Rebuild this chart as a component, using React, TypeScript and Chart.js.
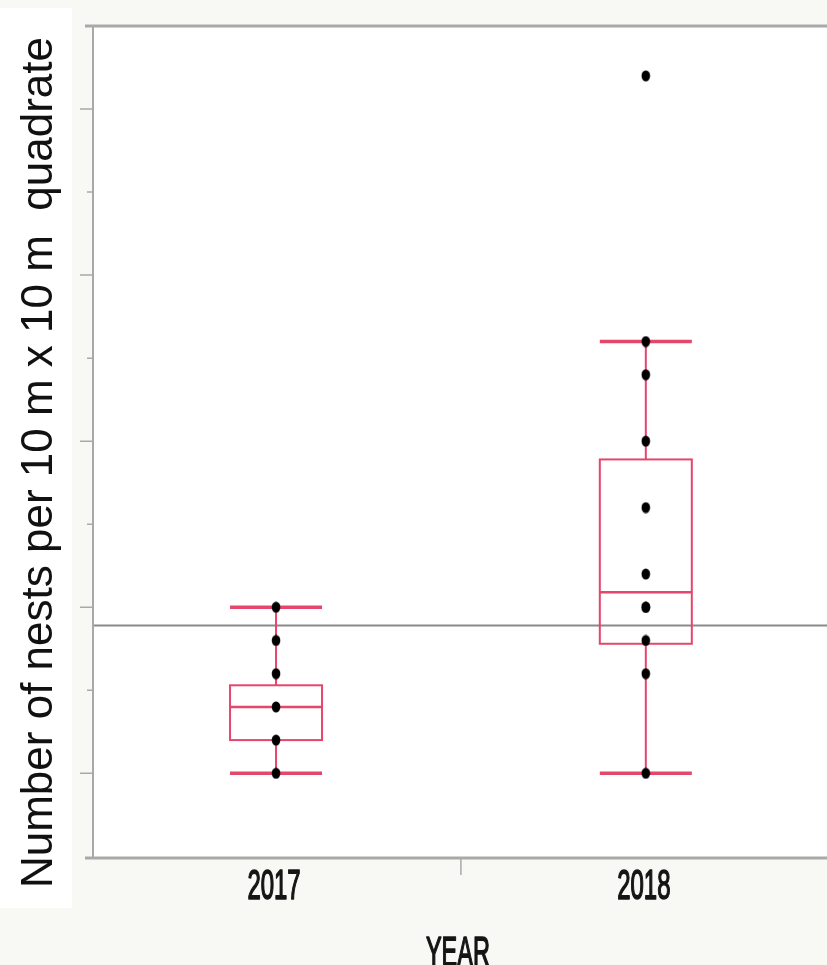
import React, { useEffect, useRef } from "react";
import { Chart, registerables } from "chart.js";
Chart.register(...registerables);

const YEARS = ["2017", "2018"];
const NESTS_2017 = [5, 6, 7, 8, 9, 10];
const NESTS_2018 = [5, 8, 9, 10, 10, 11, 13, 15, 17, 18, 26];
const WHISKER_LOW = [5, 5];
const Q1 = [6, 8.9];
const MEDIAN = [7, 10.45];
const Q3 = [7.65, 14.45];
const WHISKER_HIGH = [10, 18];
const REFERENCE = 9.45;
const Y_MAJOR = [5, 10, 15, 20, 25];
const Y_MINOR = [7.5, 12.5, 17.5, 22.5];
const X_TICKS = [1.5];
const Y_TITLE = "Number of nests per 10 m x 10 m  quadrate";
const X_TITLE = "YEAR";

const BOX_COLOR = "#e4466c";
const AXIS_COLOR = "#a9a9a9";

function makeDot(): HTMLCanvasElement {
  const c = document.createElement("canvas");
  c.width = 10;
  c.height = 12;
  const g = c.getContext("2d")!;
  g.fillStyle = "#000";
  g.beginPath();
  g.ellipse(5, 6, 4.3, 5.6, 0, 0, Math.PI * 2);
  g.fill();
  return c;
}

const deco = {
  id: "deco",
  beforeDraw(chart: any) {
    const { ctx, width, height, chartArea: a } = chart;
    ctx.save();
    ctx.fillStyle = "#f8f8f5";
    ctx.fillRect(0, 0, width, height);
    ctx.fillStyle = "#ffffff";
    ctx.fillRect(0, 8, 72, 900);
    ctx.fillRect(a.left, a.top, a.right - a.left, a.bottom - a.top);
    ctx.restore();
  },
  beforeDatasetsDraw(chart: any) {
    const { ctx, chartArea: a } = chart;
    const xs = chart.scales.x;
    const ys = chart.scales.y;
    ctx.save();
    ctx.strokeStyle = "#8a8a8a";
    ctx.lineWidth = 2;
    const ry = ys.getPixelForValue(REFERENCE);
    ctx.beginPath();
    ctx.moveTo(a.left, ry);
    ctx.lineTo(a.right, ry);
    ctx.stroke();
    const half = 46;
    YEARS.forEach((_, i) => {
      const cx = xs.getPixelForValue(i + 1);
      const lo = ys.getPixelForValue(WHISKER_LOW[i]);
      const hi = ys.getPixelForValue(WHISKER_HIGH[i]);
      const q1 = ys.getPixelForValue(Q1[i]);
      const q3 = ys.getPixelForValue(Q3[i]);
      const md = ys.getPixelForValue(MEDIAN[i]);
      ctx.strokeStyle = BOX_COLOR;
      ctx.lineWidth = 2;
      ctx.beginPath();
      ctx.moveTo(cx, lo);
      ctx.lineTo(cx, q1);
      ctx.moveTo(cx, q3);
      ctx.lineTo(cx, hi);
      ctx.stroke();
      ctx.strokeRect(cx - half, q3, half * 2, q1 - q3);
      ctx.lineWidth = 2.5;
      ctx.beginPath();
      ctx.moveTo(cx - half, md);
      ctx.lineTo(cx + half, md);
      ctx.stroke();
      ctx.lineWidth = 3.5;
      ctx.beginPath();
      ctx.moveTo(cx - half, lo);
      ctx.lineTo(cx + half, lo);
      ctx.moveTo(cx - half, hi);
      ctx.lineTo(cx + half, hi);
      ctx.stroke();
    });
    ctx.restore();
  },
  afterDraw(chart: any) {
    const { ctx, chartArea: a } = chart;
    const xs = chart.scales.x;
    const ys = chart.scales.y;
    ctx.save();
    ctx.strokeStyle = AXIS_COLOR;
    ctx.lineWidth = 3;
    ctx.beginPath();
    ctx.moveTo(a.left - 8, a.top);
    ctx.lineTo(a.right, a.top);
    ctx.moveTo(a.left - 8, a.bottom);
    ctx.lineTo(a.right, a.bottom);
    ctx.stroke();
    ctx.lineWidth = 2;
    ctx.beginPath();
    ctx.moveTo(a.left, a.top);
    ctx.lineTo(a.left, a.bottom);
    ctx.stroke();
    ctx.lineWidth = 1.5;
    ctx.beginPath();
    Y_MAJOR.forEach((v) => {
      const py = ys.getPixelForValue(v);
      ctx.moveTo(a.left - 13, py);
      ctx.lineTo(a.left, py);
    });
    Y_MINOR.forEach((v) => {
      const py = ys.getPixelForValue(v);
      ctx.moveTo(a.left - 6, py);
      ctx.lineTo(a.left, py);
    });
    X_TICKS.forEach((v) => {
      const px = xs.getPixelForValue(v);
      ctx.moveTo(px, a.bottom);
      ctx.lineTo(px, a.bottom + 17);
    });
    ctx.stroke();
    ctx.fillStyle = "#151515";
    ctx.strokeStyle = "#151515";
    ctx.lineWidth = 1.6;
    ctx.lineJoin = "round";
    ctx.font = "42px 'Liberation Sans', Arial, sans-serif";
    ctx.textAlign = "center";
    ctx.textBaseline = "alphabetic";
    const sx = 0.57;
    YEARS.forEach((lab, i) => {
      const px = xs.getPixelForValue(i + 1) - 2;
      ctx.save();
      ctx.translate(px, 899);
      ctx.scale(sx, 1);
      ctx.fillText(lab, 0, 0);
      ctx.strokeText(lab, 0, 0);
      ctx.restore();
    });
    ctx.save();
    ctx.translate(xs.getPixelForValue(1.5) - 3, 966);
    ctx.scale(0.56, 1);
    ctx.fillText(X_TITLE, 0, 0);
    ctx.strokeText(X_TITLE, 0, 0);
    ctx.restore();
    ctx.save();
    ctx.fillStyle = "#111";
    ctx.font = "44px 'Liberation Sans', Arial, sans-serif";
    ctx.translate(52, 462.5);
    ctx.rotate(-Math.PI / 2);
    ctx.fillText(Y_TITLE, 0, 0);
    ctx.restore();
    ctx.restore();
  },
};

export default function App() {
  const ref = useRef<HTMLCanvasElement>(null);
  useEffect(() => {
    const dot = makeDot();
    const chart = new Chart(ref.current!, {
      type: "scatter",
      data: {
        datasets: [
          {
            label: YEARS[0],
            data: NESTS_2017.map((v) => ({ x: 1, y: v })),
            pointStyle: dot as any,
            pointRadius: 5,
            backgroundColor: "#000",
            borderColor: "#000",
          },
          {
            label: YEARS[1],
            data: NESTS_2018.map((v) => ({ x: 2, y: v })),
            pointStyle: dot as any,
            pointRadius: 5,
            backgroundColor: "#000",
            borderColor: "#000",
          },
        ],
      },
      options: {
        responsive: false,
        animation: false,
        devicePixelRatio: 1,
        layout: { autoPadding: false, padding: { left: 93, top: 26, right: 0, bottom: 107 } },
        plugins: { legend: { display: false }, tooltip: { enabled: false } },
        scales: {
          x: { type: "linear", min: 0.505, max: 2.49, display: false },
          y: { type: "linear", min: 2.45, max: 27.5, display: false },
        },
      },
      plugins: [deco],
    });
    return () => chart.destroy();
  }, []);
  return (
    <div style={{ position: "absolute", left: 0, top: 0, width: 827, height: 965, overflow: "hidden" }}>
      <canvas ref={ref} width={827} height={965} style={{ display: "block" }} />
    </div>
  );
}
